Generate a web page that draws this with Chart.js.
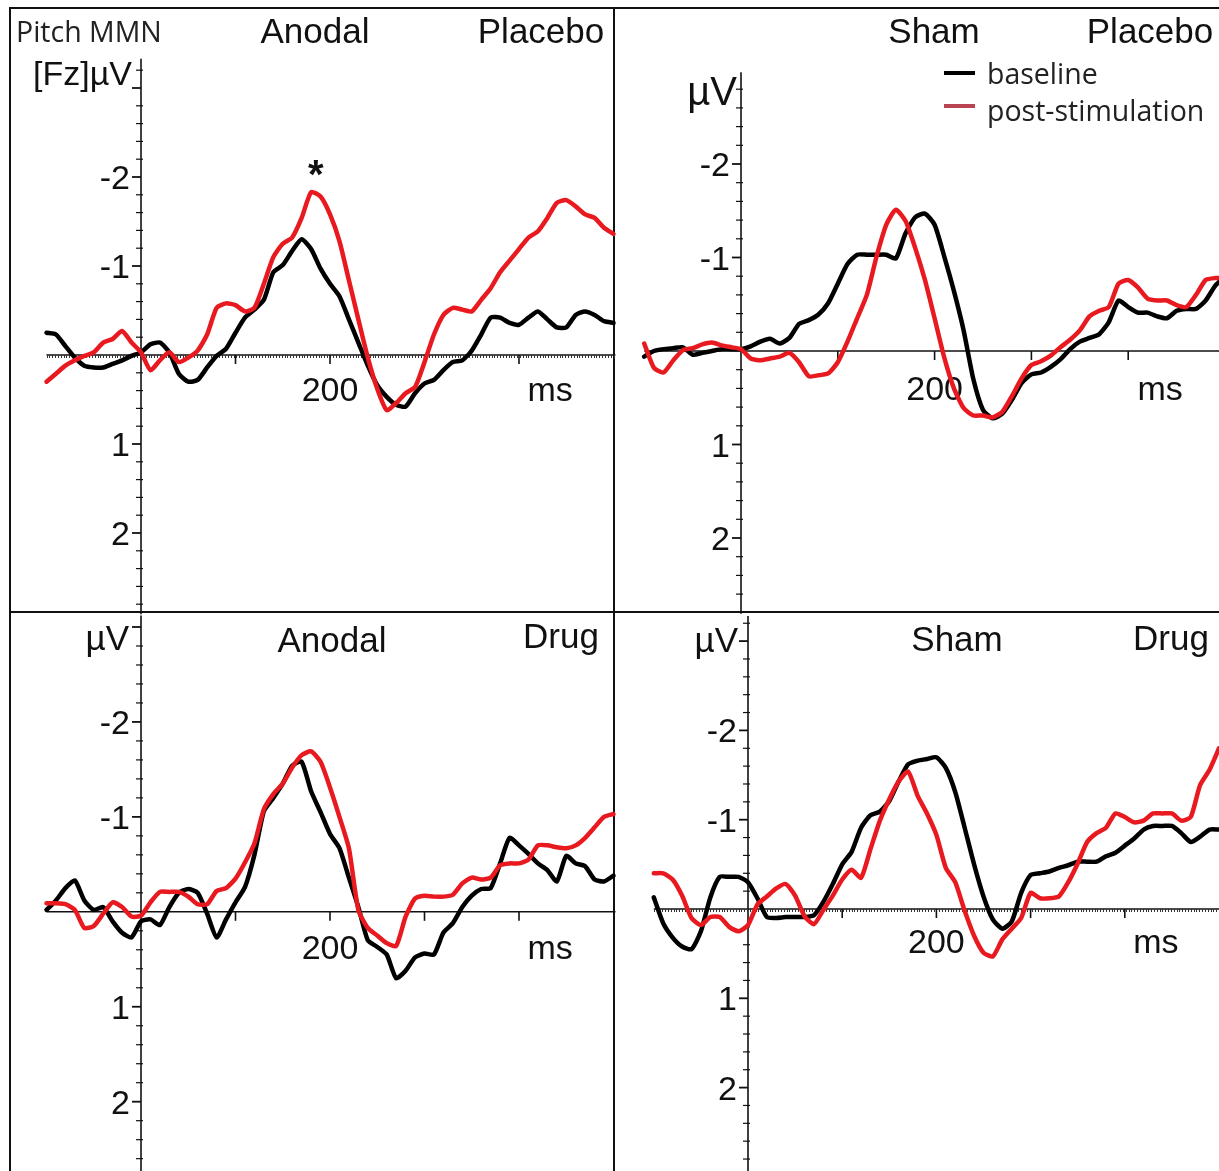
<!DOCTYPE html>
<html>
<head>
<meta charset="utf-8">
<title>Pitch MMN at Fz</title>
<script src="https://cdn.jsdelivr.net/npm/chart.js@4.4.1/dist/chart.umd.min.js"></script>
<style>
  html, body { margin: 0; padding: 0; background: #fff; }
  #figure { position: relative; width: 1219px; height: 1171px; overflow: hidden; background: #fff; }
  #figure canvas { position: absolute; left: 0; top: 0; }
  .rule { position: absolute; background: #111; }
</style>
</head>
<body>
<div id="figure">
  <div class="rule" style="left:9px; top:7px; width:1210px; height:2px"></div>
  <div class="rule" style="left:9px; top:7px; width:2px; height:1164px"></div>
  <div class="rule" style="left:613px; top:7px; width:2px; height:1164px"></div>
  <div class="rule" style="left:9px; top:611px; width:1210px; height:2px"></div>
  <canvas id="anodalPlacebo" width="1219" height="1171"></canvas>
  <canvas id="shamPlacebo" width="1219" height="1171"></canvas>
  <canvas id="anodalDrug" width="1219" height="1171"></canvas>
  <canvas id="shamDrug" width="1219" height="1171"></canvas>
</div>
<script>
// time base of every trace (ms after stimulus onset)
const TIMES_MS = [
  -100, -90, -80, -70, -60, -50, -40, -30, -20, -10,
  0, 10, 20, 30, 40, 50, 60, 70, 80, 90,
  100, 110, 120, 130, 140, 150, 160, 170, 180, 190,
  200, 210, 220, 230, 240, 250, 260, 270, 280, 290,
  300, 310, 320, 330, 340, 350, 360, 370, 380, 390,
  400, 410, 420, 430, 440, 450, 460, 470, 480, 490, 500
];

// amplitudes in µV (negative = up)
const ANODAL_PLACEBO_BASELINE = [
  -0.25, -0.23, -0.10, 0.03, 0.12, 0.14, 0.14, 0.10, 0.06, 0.01,
  -0.03, -0.12, -0.14, -0.03, 0.21, 0.30, 0.28, 0.14, 0.01, -0.07,
  -0.25, -0.42, -0.51, -0.62, -0.93, -1.01, -1.17, -1.30, -1.19, -0.97,
  -0.80, -0.66, -0.40, -0.14, 0.12, 0.34, 0.47, 0.56, 0.58, 0.43,
  0.32, 0.28, 0.17, 0.08, 0.06, -0.05, -0.23, -0.42, -0.42, -0.36,
  -0.34, -0.42, -0.49, -0.40, -0.31, -0.31, -0.45, -0.49, -0.45, -0.38, -0.36
];
const ANODAL_PLACEBO_POST = [
  0.30, 0.21, 0.12, 0.06, 0.01, -0.03, -0.14, -0.18, -0.27, -0.14,
  -0.03, 0.17, 0.06, -0.03, 0.08, 0.03, -0.05, -0.23, -0.53, -0.58,
  -0.56, -0.49, -0.53, -0.80, -1.10, -1.25, -1.32, -1.54, -1.83, -1.78,
  -1.58, -1.28, -0.84, -0.40, 0.03, 0.38, 0.62, 0.54, 0.43, 0.36,
  0.08, -0.23, -0.45, -0.53, -0.51, -0.49, -0.62, -0.75, -0.93, -1.06,
  -1.19, -1.32, -1.39, -1.54, -1.71, -1.74, -1.67, -1.58, -1.54, -1.43, -1.36
];
const SHAM_PLACEBO_BASELINE = [
  0.06, 0.00, -0.02, -0.03, -0.04, 0.04, 0.02, 0.00, -0.02, -0.02,
  -0.02, -0.05, -0.10, -0.13, -0.08, -0.14, -0.29, -0.33, -0.39, -0.51,
  -0.72, -0.93, -1.03, -1.03, -1.03, -1.03, -0.99, -1.26, -1.43, -1.47,
  -1.35, -1.01, -0.64, -0.22, 0.30, 0.63, 0.72, 0.67, 0.52, 0.34,
  0.25, 0.23, 0.17, 0.09, -0.02, -0.10, -0.14, -0.18, -0.31, -0.54,
  -0.47, -0.41, -0.41, -0.37, -0.35, -0.43, -0.45, -0.45, -0.54, -0.70, -0.80
];
const SHAM_PLACEBO_POST = [
  -0.08, 0.18, 0.23, 0.10, -0.01, -0.03, -0.07, -0.09, -0.06, -0.04,
  -0.02, 0.08, 0.10, 0.08, 0.06, 0.02, 0.12, 0.27, 0.26, 0.24,
  0.12, -0.10, -0.35, -0.60, -1.01, -1.35, -1.51, -1.39, -1.10, -0.76,
  -0.35, 0.07, 0.40, 0.61, 0.69, 0.69, 0.71, 0.65, 0.48, 0.29,
  0.15, 0.11, 0.05, -0.04, -0.12, -0.22, -0.37, -0.43, -0.47, -0.72,
  -0.76, -0.68, -0.56, -0.54, -0.54, -0.49, -0.47, -0.60, -0.76, -0.78, -0.78
];
const ANODAL_DRUG_BASELINE = [
  -0.02, -0.12, -0.25, -0.33, -0.12, -0.02, -0.05, 0.10, 0.22, 0.27,
  0.10, 0.08, 0.14, -0.05, -0.20, -0.24, -0.20, 0.02, 0.27, 0.08,
  -0.10, -0.26, -0.60, -1.06, -1.20, -1.35, -1.54, -1.58, -1.27, -1.05,
  -0.82, -0.67, -0.36, -0.05, 0.30, 0.37, 0.45, 0.70, 0.62, 0.48,
  0.44, 0.45, 0.22, 0.12, -0.05, -0.17, -0.24, -0.25, -0.51, -0.78,
  -0.70, -0.61, -0.51, -0.44, -0.32, -0.59, -0.51, -0.48, -0.34, -0.32, -0.38
];
const ANODAL_DRUG_POST = [
  -0.09, -0.09, -0.08, -0.02, 0.17, 0.15, 0.02, -0.10, -0.05, 0.05,
  0.04, -0.10, -0.21, -0.21, -0.21, -0.16, -0.08, -0.08, -0.22, -0.25,
  -0.35, -0.52, -0.72, -1.08, -1.24, -1.35, -1.52, -1.65, -1.69, -1.58,
  -1.31, -1.00, -0.67, -0.02, 0.17, 0.25, 0.33, 0.36, 0.05, -0.14,
  -0.17, -0.16, -0.16, -0.18, -0.30, -0.36, -0.34, -0.36, -0.49, -0.51,
  -0.51, -0.55, -0.70, -0.70, -0.68, -0.67, -0.70, -0.78, -0.89, -1.00, -1.03
];
const SHAM_DRUG_BASELINE = [
  -0.13, 0.16, 0.32, 0.42, 0.45, 0.25, -0.13, -0.36, -0.36, -0.36,
  -0.30, -0.12, 0.09, 0.10, 0.09, 0.09, 0.09, 0.07, -0.08, -0.28,
  -0.50, -0.64, -0.91, -1.05, -1.09, -1.21, -1.43, -1.62, -1.66, -1.68,
  -1.70, -1.58, -1.31, -0.91, -0.50, -0.14, 0.12, 0.22, 0.14, -0.18,
  -0.38, -0.40, -0.42, -0.46, -0.49, -0.53, -0.53, -0.53, -0.59, -0.63,
  -0.71, -0.79, -0.89, -0.93, -0.93, -0.93, -0.85, -0.75, -0.81, -0.89, -0.89
];
const SHAM_DRUG_POST = [
  -0.40, -0.40, -0.33, -0.15, 0.10, 0.18, 0.09, 0.09, 0.20, 0.25,
  0.18, -0.05, -0.14, -0.23, -0.28, -0.15, 0.08, 0.17, 0.01, -0.15,
  -0.33, -0.44, -0.35, -0.67, -0.99, -1.23, -1.43, -1.54, -1.27, -1.07,
  -0.83, -0.46, -0.30, 0.02, 0.30, 0.49, 0.53, 0.34, 0.22, 0.10,
  -0.18, -0.12, -0.12, -0.14, -0.30, -0.51, -0.75, -0.85, -0.91, -1.07,
  -1.03, -0.97, -0.99, -1.07, -1.07, -1.07, -0.99, -1.03, -1.39, -1.56, -1.80
];

// axis marks
const X_MAJOR_TICKS = [100, 200, 300, 400];
const X_TICK_LABELS = [{ at: 200, text: '200' }, { at: 433, text: 'ms' }];
const Y_TICK_LABELS = [-2, -1, 1, 2];
const SIGNIFICANT_PEAK_MS = 185;

const W = 1219, H = 1171;
const RED = '#e8191f';
const BLACK = '#000000';
const ARIAL = '"Liberation Sans", Arial, sans-serif';
const CALIBRI = '"Open Sans", "Noto Sans", sans-serif';

const PANELS = [
  {
    id: 'anodalPlacebo', baseline: ANODAL_PLACEBO_BASELINE, post: ANODAL_PLACEBO_POST,
    origin: [141, 355], msPx: 0.945, uvPx: 89, xRange: [-100, 500], yRange: [-3.33, 2.89],
    dottedZero: true, labelDrop: 46,
    unit: { text: '[Fz]µV', right: 132, base: 85, size: 34 },
    titles: [{ text: 'Anodal', cx: 315, base: 43 }, { text: 'Placebo', cx: 541, base: 43 }],
    caption: { text: 'Pitch MMN', left: 16, base: 42 },
    star: true,
  },
  {
    id: 'shamPlacebo', baseline: SHAM_PLACEBO_BASELINE, post: SHAM_PLACEBO_POST,
    origin: [741, 351], msPx: 0.968, uvPx: 93.5, xRange: [-100, 493], yRange: [-2.98, 2.79],
    dottedZero: false, labelDrop: 49,
    unit: { text: 'µV', right: 737, base: 105, size: 40 },
    titles: [{ text: 'Sham', cx: 934, base: 43 }, { text: 'Placebo', cx: 1150, base: 43 }],
    legend: true,
  },
  {
    id: 'anodalDrug', baseline: ANODAL_DRUG_BASELINE, post: ANODAL_DRUG_POST,
    origin: [141, 912], msPx: 0.945, uvPx: 95, xRange: [-100, 500], yRange: [-3.12, 2.73],
    dottedZero: false, labelDrop: 47,
    unit: { text: 'µV', right: 129, base: 650, size: 35 },
    titles: [{ text: 'Anodal', cx: 332, base: 652 }, { text: 'Drug', cx: 561, base: 648 }],
  },
  {
    id: 'shamDrug', baseline: SHAM_DRUG_BASELINE, post: SHAM_DRUG_POST,
    origin: [748, 909], msPx: 0.942, uvPx: 89.3, xRange: [-100, 500], yRange: [-3.28, 2.93],
    dottedZero: true, labelDrop: 44,
    unit: { text: 'µV', right: 738, base: 652, size: 35 },
    titles: [{ text: 'Sham', cx: 957, base: 651 }, { text: 'Drug', cx: 1171, base: 650 }],
  },
];

// draws the crossed axes, ticks and text of one panel
function makeAxesPlugin(p) {
  return {
    id: 'erpAxes',
    beforeDatasetsDraw(chart) {
      const { ctx, chartArea } = chart;
      const xs = chart.scales.x;
      const ys = chart.scales.y;
      const ax = xs.getPixelForValue(0);
      const ay = ys.getPixelForValue(0);

      ctx.save();
      ctx.strokeStyle = '#111';
      ctx.lineWidth = 1.6;

      // vertical µV axis
      ctx.beginPath();
      ctx.moveTo(ax, chartArea.top);
      ctx.lineTo(ax, chartArea.bottom + 2);
      ctx.stroke();

      // minor ticks every 0.2 µV, longer ones on whole µV
      const kMin = Math.ceil(p.yRange[0] * 5);
      const kMax = Math.floor(p.yRange[1] * 5);
      for (let k = kMin; k <= kMax; k++) {
        if (k === 0) continue;
        const y = ys.getPixelForValue(k / 5);
        const major = k % 5 === 0;
        ctx.lineWidth = major ? 1.8 : 1.2;
        ctx.beginPath();
        ctx.moveTo(ax - (major ? 9 : 5), y);
        ctx.lineTo(ax + (major ? 0 : 2), y);
        ctx.stroke();
      }

      // horizontal time axis at 0 µV
      ctx.lineWidth = 1.6;
      ctx.beginPath();
      ctx.moveTo(chartArea.left, ay);
      ctx.lineTo(chartArea.right + 2, ay);
      ctx.stroke();

      if (p.dottedZero) {
        ctx.lineWidth = 1;
        ctx.strokeStyle = '#333';
        ctx.beginPath();
        for (let t = p.xRange[0]; t <= p.xRange[1]; t += 3) {
          const x = Math.round(xs.getPixelForValue(t)) + 0.5;
          ctx.moveTo(x, ay);
          ctx.lineTo(x, ay + 3);
        }
        ctx.stroke();
        ctx.strokeStyle = '#111';
      }

      ctx.lineWidth = 1.6;
      X_MAJOR_TICKS.forEach((t) => {
        const x = xs.getPixelForValue(t);
        ctx.beginPath();
        ctx.moveTo(x, ay);
        ctx.lineTo(x, ay + 9);
        ctx.stroke();
      });

      // tick labels
      ctx.fillStyle = '#111';
      ctx.textBaseline = 'alphabetic';
      ctx.font = `34px ${ARIAL}`;
      ctx.textAlign = 'right';
      Y_TICK_LABELS.forEach((v) => {
        ctx.fillText(String(v), ax - 11, ys.getPixelForValue(v) + 12);
      });
      ctx.textAlign = 'center';
      X_TICK_LABELS.forEach((l) => {
        ctx.fillText(l.text, xs.getPixelForValue(l.at), ay + p.labelDrop);
      });

      // unit and condition titles
      ctx.textAlign = 'right';
      ctx.font = `${p.unit.size}px ${ARIAL}`;
      ctx.fillText(p.unit.text, p.unit.right, p.unit.base);
      ctx.textAlign = 'center';
      ctx.font = `35px ${ARIAL}`;
      p.titles.forEach((t) => ctx.fillText(t.text, t.cx, t.base));

      if (p.caption) {
        ctx.textAlign = 'left';
        ctx.font = `28.5px ${CALIBRI}`;
        ctx.fillStyle = '#222';
        ctx.fillText(p.caption.text, p.caption.left, p.caption.base);
      }

      if (p.star) {
        const i = TIMES_MS.indexOf(SIGNIFICANT_PEAK_MS - 5);
        const peak = Math.min(p.post[i], p.post[i + 1]);
        ctx.font = `bold 40px ${ARIAL}`;
        ctx.textAlign = 'center';
        ctx.fillStyle = '#111';
        const m = ctx.measureText('*');
        const cy = ys.getPixelForValue(peak) - 24;
        ctx.fillText('*', xs.getPixelForValue(SIGNIFICANT_PEAK_MS),
          cy + (m.actualBoundingBoxAscent - m.actualBoundingBoxDescent) / 2);
      }
      ctx.restore();
    },
    afterDatasetsDraw(chart) {
      if (!p.legend) return;
      const { ctx } = chart;
      const order = [chart.data.datasets[1], chart.data.datasets[0]];
      const swatch = { [order[0].label]: BLACK, [order[1].label]: '#b94452' };
      const rows = [{ line: 73, base: 84 }, { line: 106, base: 121 }];
      ctx.save();
      ctx.font = `28.5px ${CALIBRI}`;
      ctx.fillStyle = '#222';
      ctx.textAlign = 'left';
      order.forEach((ds, i) => {
        ctx.strokeStyle = swatch[ds.label];
        ctx.lineWidth = 4;
        ctx.beginPath();
        ctx.moveTo(944, rows[i].line);
        ctx.lineTo(975, rows[i].line);
        ctx.stroke();
        ctx.fillText(ds.label, 987, rows[i].base);
      });
      ctx.restore();
    },
  };
}

function toPoints(values) {
  return TIMES_MS.map((t, i) => ({ x: t, y: values[i] }));
}

function buildPanel(p) {
  const [ox, oy] = p.origin;
  const left = ox + p.xRange[0] * p.msPx;
  const right = ox + p.xRange[1] * p.msPx;
  const top = oy + p.yRange[0] * p.uvPx;
  const bottom = oy + p.yRange[1] * p.uvPx;

  return new Chart(document.getElementById(p.id), {
    type: 'line',
    data: {
      datasets: [
        { label: 'post-stimulation', data: toPoints(p.post), borderColor: RED, order: 0, clip: false },
        { label: 'baseline', data: toPoints(p.baseline), borderColor: BLACK, order: 1, clip: false },
      ],
    },
    options: {
      responsive: false,
      animation: false,
      events: [],
      layout: {
        padding: {
          left: left,
          top: top,
          right: Math.max(0, W - right),
          bottom: Math.max(0, H - bottom),
        },
      },
      elements: {
        point: { radius: 0 },
        line: { borderWidth: 4.5, tension: 0.2, borderJoinStyle: 'round', borderCapStyle: 'round' },
      },
      scales: {
        x: { type: 'linear', min: p.xRange[0], max: p.xRange[1], display: false },
        y: { type: 'linear', min: p.yRange[0], max: p.yRange[1], reverse: true, display: false },
      },
      plugins: {
        legend: { display: false },
        tooltip: { enabled: false },
      },
    },
    plugins: [makeAxesPlugin(p)],
  });
}

PANELS.forEach(buildPanel);
</script>
</body>
</html>
